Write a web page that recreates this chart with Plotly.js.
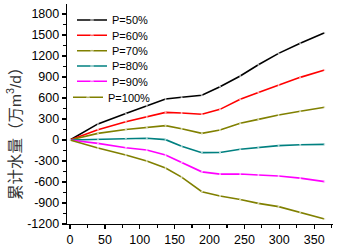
<!DOCTYPE html>
<html>
<head>
<meta charset="utf-8">
<script src="https://cdn.plot.ly/plotly-3.0.1.min.js"></script>
<style>html,body{margin:0;padding:0;background:#fff;}#chart{width:340px;height:248px;}</style>
</head>
<body>
<div id="chart"></div>
<script>
var days = [0, 40, 80, 110, 137, 160, 189, 215, 244, 270, 299, 330, 365];
var p50  = [0, 230, 378, 490, 586, 610, 640, 762, 914, 1075, 1238, 1381, 1533];
var p60  = [0, 148, 262, 330, 395, 385, 367, 438, 581, 680, 786, 895, 1000];
var p70  = [0, 95, 150, 180, 205, 160, 95, 143, 238, 295, 357, 410, 467];
var p80  = [0, 10, 24, 25, 5, -90, -181, -178, -133, -110, -81, -68, -62];
var p90  = [0, -48, -110, -143, -215, -320, -455, -488, -486, -500, -515, -545, -595];
var p100 = [0, -115, -214, -300, -400, -530, -738, -800, -850, -905, -952, -1030, -1129];
var seriesNames = ['P=50%', 'P=60%', 'P=70%', 'P=80%', 'P=90%', 'P=100%'];
var seriesData = [p50, p60, p70, p80, p90, p100];
var seriesColors = ['#000000', '#ff0000', '#808000', '#008080', '#ff00ff', '#808000'];
var xTicks = [0, 50, 100, 150, 200, 250, 300, 350];
var yTicks = [-1200, -900, -600, -300, 0, 300, 600, 900, 1200, 1500, 1800];

var legendIds = ['legend', 'legend2', 'legend3', 'legend4', 'legend5', 'legend6'];
var legendY = [20, 35.3, 50.7, 66, 81.3, 97.3];
var legendX = [72, 72, 72, 72, 72, 68];

var traces = seriesData.map(function (vals, i) {
  return {
    x: days, y: vals, type: 'scatter', mode: 'lines+markers',
    name: seriesNames[i],
    legend: legendIds[i],
    line: {color: seriesColors[i], width: 1.6},
    marker: {color: seriesColors[i], size: days.map(function () { return 1; }), symbol: 'square'}
  };
});

var font = 'Liberation Sans, Arial, sans-serif';
var layout = {
  width: 340, height: 248,
  margin: {l: 67, r: 7, t: 4, b: 24},
  paper_bgcolor: '#fff', plot_bgcolor: '#fff',
  showlegend: true,
  xaxis: {
    range: [-4.3, 377], tickvals: xTicks, ticktext: xTicks.map(String),
    showgrid: false, zeroline: false, showline: true, linecolor: '#000', linewidth: 1.3,
    ticks: 'outside', ticklen: 4, tickwidth: 1.3, tickcolor: '#000',
    minor: {dtick: 25, tick0: 0, ticks: 'outside', ticklen: 2.5, tickwidth: 1.2, tickcolor: '#000'},
    tickfont: {family: font, size: 12.5, color: '#000'}
  },
  yaxis: {
    range: [-1200, 1943], tickvals: yTicks, ticktext: yTicks.map(String),
    showgrid: false, zeroline: false, showline: true, linecolor: '#000', linewidth: 1.3,
    ticks: 'outside', ticklen: 4, tickwidth: 1.3, tickcolor: '#000',
    minor: {dtick: 150, tick0: 0, ticks: 'outside', ticklen: 2.5, tickwidth: 1.2, tickcolor: '#000'},
    tickfont: {family: font, size: 12.5, color: '#000'}
  },
  annotations: [{
    text: '累计水量（万m<sup>3</sup>/d）',
    xref: 'paper', yref: 'paper', x: (14 - 67) / 266, y: (224 - 130) / 220,
    xanchor: 'center', yanchor: 'middle', textangle: -90, showarrow: false,
    font: {family: 'Liberation Sans, Noto Sans CJK SC, sans-serif', size: 15.5, color: '#333'}
  }]
};
legendIds.forEach(function (id, i) {
  layout[id] = {
    x: (legendX[i] - 67) / 266, y: (224 - legendY[i]) / 220,
    xanchor: 'left', yanchor: 'middle',
    bgcolor: 'rgba(0,0,0,0)', borderwidth: 0,
    font: {family: font, size: 11, color: '#000'},
    itemsizing: 'trace'
  };
});

Plotly.newPlot('chart', traces, layout, {staticPlot: true, displayModeBar: false});
</script>
</body>
</html>
